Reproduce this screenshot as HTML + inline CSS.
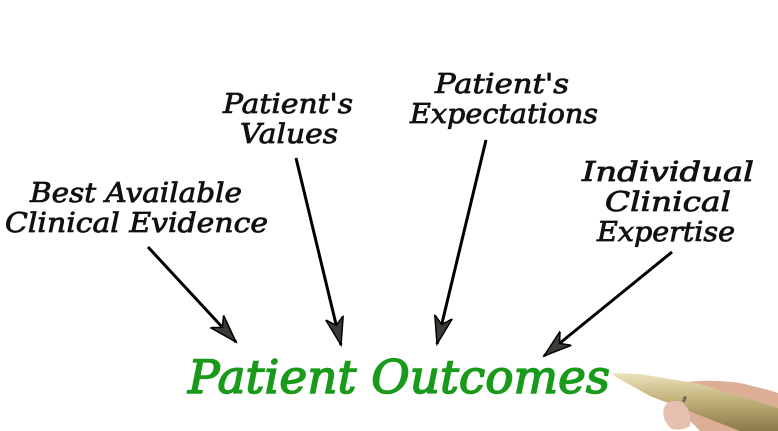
<!DOCTYPE html>
<html><head><meta charset="utf-8"><style>
html,body{margin:0;padding:0;background:#fff;}
svg{display:block}
text{font-family:"DejaVu Serif","Liberation Serif",serif;font-style:italic;fill:#111;stroke:#111;stroke-width:0.8;}
</style></head><body>
<svg width="778" height="431" viewBox="0 0 778 431" xmlns="http://www.w3.org/2000/svg">
<defs>
<marker id="a" markerWidth="30" markerHeight="20" refX="28" refY="10" orient="auto" markerUnits="userSpaceOnUse">
<path d="M0,1 L28,10 L0,19 L8,10 Z" fill="#3a3d36" stroke="#000" stroke-width="1.5"/>
</marker>
<linearGradient id="pen" x1="0" y1="0" x2="0" y2="1">
<stop offset="0" stop-color="#ece2bc"/><stop offset="0.45" stop-color="#c4b37c"/><stop offset="1" stop-color="#8a7a4a"/>
</linearGradient>
</defs>
<g font-size="27">
<text x="30" y="202" textLength="212" lengthAdjust="spacingAndGlyphs">Best Available</text>
<text x="5" y="232" textLength="263" lengthAdjust="spacingAndGlyphs">Clinical Evidence</text>
<text x="223" y="113" textLength="130" lengthAdjust="spacingAndGlyphs">Patient's</text>
<text x="240" y="143" textLength="98" lengthAdjust="spacingAndGlyphs">Values</text>
<text x="435" y="93" textLength="134" lengthAdjust="spacingAndGlyphs">Patient's</text>
<text x="410" y="123" textLength="188" lengthAdjust="spacingAndGlyphs">Expectations</text>
<text x="582" y="181" textLength="172" lengthAdjust="spacingAndGlyphs">Individual</text>
<text x="605" y="211" textLength="126" lengthAdjust="spacingAndGlyphs">Clinical</text>
<text x="597" y="241" textLength="138" lengthAdjust="spacingAndGlyphs">Expertise</text>
</g>
<text x="188" y="393" font-size="46" style="fill:#1a9a1a;stroke:#1a9a1a;stroke-width:1.5" textLength="422" lengthAdjust="spacingAndGlyphs">Patient Outcomes</text>
<g stroke="#000" stroke-width="3" fill="none">
<line x1="148" y1="247" x2="236" y2="342" marker-end="url(#a)"/>
<line x1="296" y1="158" x2="341" y2="345" marker-end="url(#a)"/>
<line x1="486" y1="140" x2="437" y2="344" marker-end="url(#a)"/>
<line x1="672" y1="252" x2="544" y2="356" marker-end="url(#a)"/>
</g>
<path d="M672,384 Q705,378 740,383 Q770,390 778,393 L778,431 L700,431 Q688,418 674,408 Q664,398 672,384 Z" fill="#dcae96"/>
<polygon points="612,373 640,374 700,384 778,408 778,431 740,431 650,396 616,377" fill="url(#pen)"/>
<path d="M664,408 Q668,398 682,402 Q692,410 690,426 Q682,431 672,429 Q661,420 664,408 Z" fill="#e6bfae"/>
<rect x="683" y="396" width="3" height="6" fill="#6a6a60" transform="rotate(20 684 399)"/>
</svg>
</body></html>
